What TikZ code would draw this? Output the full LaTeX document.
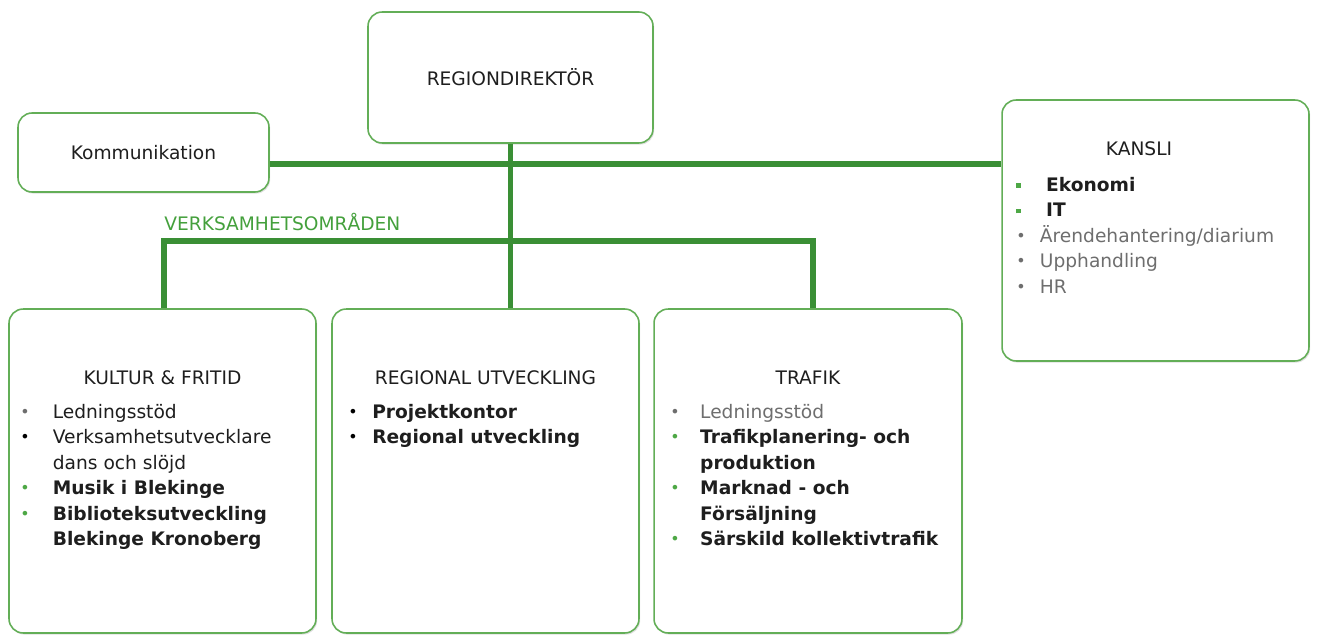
\documentclass[tikz,border=0pt]{standalone}
\usepackage{fontspec}
\setmainfont{DejaVu Sans}
\usepackage{tikz}
\usetikzlibrary{shadows}

\definecolor{linjegron}{HTML}{3A8F35}
\definecolor{ramgron}{HTML}{63AE57}
\definecolor{punktgron}{HTML}{4EA846}
\definecolor{etikettgron}{HTML}{44A03C}
\definecolor{textmork}{HTML}{1E1E1E}
\definecolor{textgra}{HTML}{6E6E6E}

\newcommand{\pkt}[2]{\makebox[#1][l]{#2}}
\newcommand{\rnd}[1]{\textcolor{#1}{\raisebox{.1ex}{\small\textbullet}}}
\newcommand{\kv}[1]{\textcolor{#1}{\rule[.35ex]{2.6pt}{2.6pt}}}

\begin{document}
\begin{tikzpicture}[x=0.02cm,y=-0.02cm,
                    font=\fontsize{10.6}{14.5}\selectfont,text=textmork,
                    box/.style={draw=ramgron,line width=0.9pt,rounded corners=8pt,fill=white,
                      drop shadow={shadow xshift=0.7pt,shadow yshift=-0.9pt,opacity=0.25}},
                    conn/.style={draw=linjegron,line width=3.4pt},
                    lista/.style={anchor=north west,align=left,inner sep=0pt}]

\useasboundingbox (0,0) rectangle (1317,635);

\node[box,minimum width=5.7cm,minimum height=2.62cm]  (dir)    at (510.5,77.5)  {REGIONDIREKTÖR};
\node[box,minimum width=5.02cm,minimum height=1.58cm] (komm)   at (143.5,152.5) {Kommunikation};
\node[box,minimum width=6.14cm,minimum height=5.22cm] (kansli) at (1155.5,230.5) {};
\node[box,minimum width=6.14cm,minimum height=6.48cm] (kul)    at (162.5,471)   {};
\node[box,minimum width=6.14cm,minimum height=6.48cm] (reg)    at (485.5,471)   {};
\node[box,minimum width=6.16cm,minimum height=6.48cm] (traf)   at (808,471)     {};

% rubriker
\node (kansli-t) at (1139,149) {KANSLI};
\node (kul-t)    at (162.5,378) {KULTUR \& FRITID};
\node (reg-t)    at (485.5,378) {REGIONAL UTVECKLING};
\node (traf-t)   at (808,378)   {TRAFIK};

% listor
\node[lista] (kansli-l) at (1016,177) {%
  \pkt{17pt}{\kv{punktgron}}\textbf{Ekonomi}\\
  \pkt{17pt}{\kv{punktgron}}\textbf{IT}\\
  \pkt{13.4pt}{\rnd{textgra}}\textcolor{textgra}{Ärendehantering/diarium}\\
  \pkt{13.4pt}{\rnd{textgra}}\textcolor{textgra}{Upphandling}\\
  \pkt{13.4pt}{\rnd{textgra}}\textcolor{textgra}{HR}};
\node[lista] (kul-l) at (20,404) {%
  \pkt{18.5pt}{\rnd{textgra}}Ledningsstöd\\
  \pkt{18.5pt}{\rnd{black}}Verksamhetsutvecklare\\
  \hspace*{18.5pt}dans och slöjd\\
  \pkt{18.5pt}{\rnd{punktgron}}\textbf{Musik i Blekinge}\\
  \pkt{18.5pt}{\rnd{punktgron}}\textbf{Biblioteksutveckling}\\
  \hspace*{18.5pt}\textbf{Blekinge Kronoberg}};
\node[lista] (reg-l) at (348,404) {%
  \pkt{13.6pt}{\rnd{black}}\textbf{Projektkontor}\\
  \pkt{13.6pt}{\rnd{black}}\textbf{Regional utveckling}};
\node[lista] (traf-l) at (670,404) {%
  \pkt{17pt}{\rnd{textgra}}\textcolor{textgra}{Ledningsstöd}\\
  \pkt{17pt}{\rnd{punktgron}}\textbf{Trafikplanering- och}\\
  \hspace*{17pt}\textbf{produktion}\\
  \pkt{17pt}{\rnd{punktgron}}\textbf{Marknad - och}\\
  \hspace*{17pt}\textbf{Försäljning}\\
  \pkt{17pt}{\rnd{punktgron}}\textbf{Särskild kollektivtrafik}};

\node[anchor=west,inner sep=0pt,text=etikettgron] (verk) at (164,222) {VERKSAMHETSOMRÅDEN};

\coordinate (kors) at (510,164);
\coordinate (gren) at (510,241);

\draw[conn] (komm.east |- kors) -- (kansli.west |- kors);
\draw[conn] (dir.south) -- (dir.south |- reg.north);
\draw[conn] ([xshift=0.03cm]kul.north) |- (gren) -| ([xshift=0.1cm]traf.north);
\end{tikzpicture}
\end{document}
